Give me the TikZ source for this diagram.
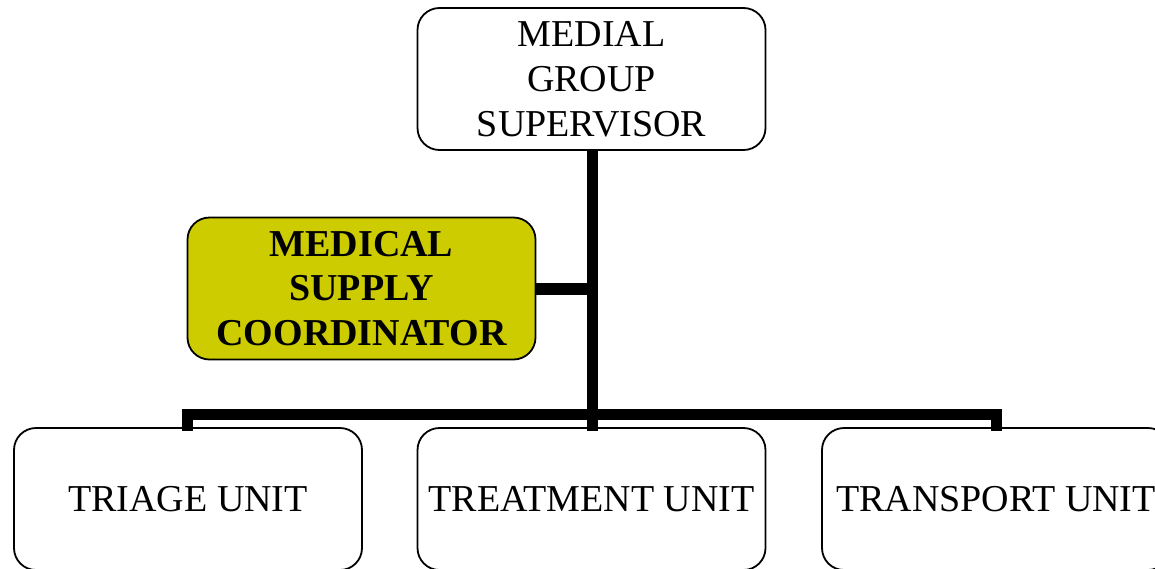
\documentclass[tikz,border=0pt]{standalone}
\usepackage{fontspec}
\setmainfont{Liberation Serif}
\definecolor{olivebox}{HTML}{CCCC00}
\begin{document}
\begin{tikzpicture}[x=1pt,y=-1pt,
  box/.style={draw=black, line width=1.8pt, rounded corners=22pt, fill=white,
    minimum width=348pt, minimum height=142pt, align=center, inner sep=0pt,
    font=\fontsize{38}{45}\selectfont},
  conn/.style={line width=11pt, line join=miter, line cap=butt}]
\useasboundingbox (0,0) rectangle (1155,568);
\begin{scope}
\clip (0,0) rectangle (1155,568);
\node[box] (top) at (591.5,79) {MEDIAL\\GROUP\\SUPERVISOR};
\node[box, fill=olivebox, font=\fontsize{38}{44.5}\selectfont\bfseries, minimum height=142pt] (sup) at (361.5,288.5) {MEDICAL\\SUPPLY\\COORDINATOR};
\node[box] (tri) at (188,499) {TRIAGE UNIT};
\node[box] (trt) at (591.5,499) {TREATMENT UNIT};
\node[box] (trn) at (996,499) {TRANSPORT UNIT};
\coordinate (busL) at (187,414);
\coordinate (busR) at (996,414);
\coordinate (busM) at (592,414);
\coordinate (endL) at (187,431);
\coordinate (endR) at (996,431);
\coordinate (endM) at (592,431);
\draw[conn] (top.south -| busM) -- (endM);
\draw[conn] (endL) -- (busL) -- (busR) -- (endR);
\draw[conn, line width=12pt] (sup.east) -- (sup.east -| busM);
\end{scope}
\end{tikzpicture}
\end{document}
